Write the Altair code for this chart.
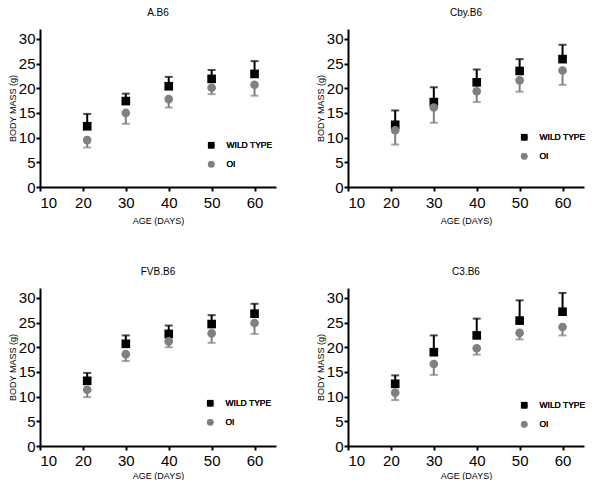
import altair as alt
import pandas as pd

ages = [21, 30, 40, 50, 60]
groups = ["WILD TYPE", "OI"]

strains = ["A.B6", "Cby.B6", "FVB.B6", "C3.B6"]

# mean values and error-bar ends (WT bars go up, OI bars go down)
wt_mean = {
    "A.B6":   [12.3, 17.4, 20.4, 21.9, 22.9],
    "Cby.B6": [12.6, 17.2, 21.2, 23.5, 25.9],
    "FVB.B6": [13.2, 20.7, 22.7, 24.7, 26.8],
    "C3.B6":  [12.6, 19.0, 22.4, 25.4, 27.2],
}
wt_top = {
    "A.B6":   [14.8, 18.9, 22.3, 23.7, 25.5],
    "Cby.B6": [15.5, 20.2, 23.8, 25.9, 28.8],
    "FVB.B6": [14.8, 22.4, 24.4, 26.5, 28.8],
    "C3.B6":  [14.3, 22.4, 25.8, 29.5, 31.0],
}
oi_mean = {
    "A.B6":   [9.5, 15.0, 17.8, 20.1, 20.7],
    "Cby.B6": [11.5, 16.1, 19.4, 21.6, 23.6],
    "FVB.B6": [11.4, 18.6, 21.2, 22.8, 24.9],
    "C3.B6":  [10.8, 16.6, 19.8, 22.9, 24.1],
}
oi_bottom = {
    "A.B6":   [8.0, 12.8, 16.1, 18.8, 18.5],
    "Cby.B6": [8.6, 13.0, 17.2, 19.3, 20.7],
    "FVB.B6": [9.9, 17.2, 20.0, 20.9, 22.7],
    "C3.B6":  [9.3, 14.4, 18.5, 21.6, 22.4],
}

x_ticks = [10, 20, 30, 40, 50, 60]
y_ticks = [0, 5, 10, 15, 20, 25, 30]

legend_pos = {
    "A.B6": (167, 112),
    "Cby.B6": (172, 104),
    "FVB.B6": (166, 111),
    "C3.B6": (172, 113),
}

W, H = 236, 158
FONT = "Liberation Sans"


def panel(strain, top_row):
    rows = []
    for i, a in enumerate(ages):
        rows.append({"age": a, "group": "WILD TYPE", "mean": wt_mean[strain][i], "end": wt_top[strain][i]})
        rows.append({"age": a, "group": "OI", "mean": oi_mean[strain][i], "end": oi_bottom[strain][i]})
    df = pd.DataFrame(rows)

    x_axis = alt.Axis(title="AGE (DAYS)", values=x_ticks, grid=False,
                      labelPadding=4 if top_row else 3,
                      titlePadding=6 if top_row else 3)
    y_axis = alt.Axis(title="BODY MASS (g)", values=y_ticks, grid=False,
                      labelOverlap=False, labelPadding=1, titlePadding=1)
    xs = alt.Scale(domain=[10, 65], nice=False, zero=False)
    ys = alt.Scale(domain=[0, 32], nice=False)

    lg = alt.Legend(title=None, orient="none",
                    legendX=legend_pos[strain][0], legendY=legend_pos[strain][1])
    color = alt.Color("group:N", scale=alt.Scale(domain=groups, range=["#000000", "#808080"]), legend=lg)
    shape = alt.Shape("group:N", scale=alt.Scale(domain=groups, range=["square", "circle"]), legend=lg)

    base = alt.Chart(df)
    bars = base.mark_rule(strokeWidth=2).encode(
        x=alt.X("age:Q", scale=xs, axis=x_axis),
        y=alt.Y("mean:Q", scale=ys, axis=y_axis),
        y2="end:Q", color=color)
    caps = base.mark_tick(orient="horizontal", size=8, thickness=2).encode(
        x=alt.X("age:Q", scale=xs, axis=x_axis),
        y=alt.Y("end:Q", scale=ys, axis=y_axis),
        color=color)
    pts = base.mark_point(filled=True, size=75, opacity=1).encode(
        x=alt.X("age:Q", scale=xs, axis=x_axis),
        y=alt.Y("mean:Q", scale=ys, axis=y_axis),
        color=color, shape=shape)

    return alt.layer(bars, caps, pts).properties(
        width=W, height=H,
        title=alt.TitleParams(strain, fontSize=10, font=FONT, fontWeight="normal", offset=11),
    ).resolve_legend(color="independent", shape="independent")


def indep(c):
    return c.resolve_legend(color="independent", shape="independent").resolve_scale(
        color="independent", shape="independent")


row1 = indep(alt.hconcat(panel("A.B6", True), panel("Cby.B6", True), spacing=40))
row2 = indep(alt.hconcat(panel("FVB.B6", False), panel("C3.B6", False), spacing=40))

chart = indep(alt.vconcat(row1, row2, spacing=42)).properties(
    padding=0
).configure_view(stroke=None).configure_axis(
    domainColor="black", domainWidth=2, tickColor="black", tickWidth=2, tickSize=4,
    labelFont=FONT, labelFontSize=15, labelColor="black",
    titleFont=FONT, titleFontSize=9, titleFontWeight="normal", titleColor="black",
).configure_legend(
    labelFont=FONT, labelFontSize=8.5, labelFontWeight="normal", labelColor="#111111", symbolSize=45,
    labelOffset=11, rowPadding=10, padding=0, columnPadding=0, symbolStrokeWidth=0,
)

chart.save("out.html", embed_options={"renderer": "svg", "actions": False})
